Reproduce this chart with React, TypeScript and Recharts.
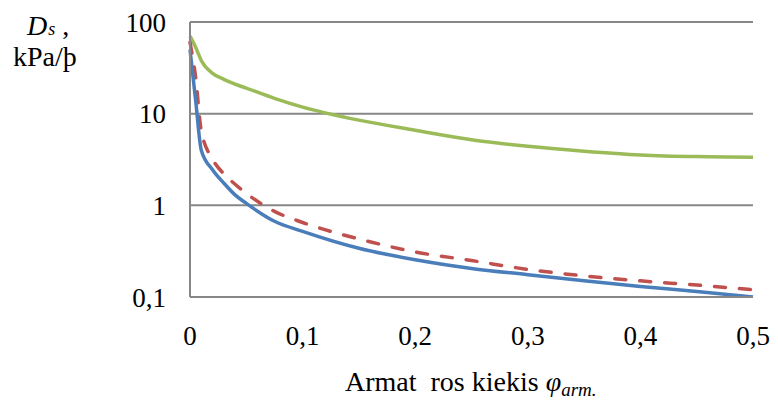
import { LineChart, Line, XAxis, YAxis, CartesianGrid } from 'recharts'

const xValues = [0, 0.005, 0.01, 0.02, 0.03, 0.04, 0.05, 0.075, 0.1, 0.15, 0.2, 0.25, 0.3, 0.35, 0.4, 0.45, 0.5]
const greenValues = [70, 53, 38, 27.5, 23.7, 21, 19, 14.7, 11.8, 8.5, 6.6, 5.2, 4.4, 3.9, 3.55, 3.4, 3.35]
const blueValues = [50, 14, 4.0, 2.45, 1.75, 1.3, 1.05, 0.67, 0.52, 0.34, 0.255, 0.205, 0.175, 0.15, 0.13, 0.115, 0.1]
const redValues = [60, 25, 6.5, 3.2, 2.2, 1.7, 1.35, 0.86, 0.65, 0.43, 0.31, 0.25, 0.2, 0.17, 0.15, 0.135, 0.12]

const xTicks = [0, 0.1, 0.2, 0.3, 0.4, 0.5]
const yTicks = [0.1, 1, 10, 100]

const data = xValues.map((x, i) => ({
  x,
  green: greenValues[i],
  blue: blueValues[i],
  red: redValues[i],
}))

const font = '"Liberation Serif", "Times New Roman", serif'
const gray = '#878787'
const comma = (v: number) => String(v).replace('.', ',')

export default function App() {
  return (
    <div style={{ position: 'absolute', left: 0, top: 0, width: 778, height: 414, background: '#fff', fontFamily: font }}>
      <LineChart width={778} height={414} data={data} margin={{ top: 22, right: 25, bottom: 57, left: 0 }}>
        <CartesianGrid vertical={false} stroke={gray} strokeWidth={2} />
        <XAxis
          dataKey="x" type="number" domain={[0, 0.5]} ticks={xTicks}
          tickFormatter={comma} height={60}
          tick={{ fill: '#000', fontSize: 27, fontFamily: font }}
          tickLine={false} tickSize={0} tickMargin={29}
          axisLine={{ stroke: gray, strokeWidth: 2 }}
        />
        <YAxis
          scale="log" type="number" domain={[0.1, 100]} ticks={yTicks} allowDataOverflow
          tickFormatter={comma} width={190}
          tick={{ fill: '#000', fontSize: 27, fontFamily: font }}
          tickLine={false} tickSize={0} tickMargin={24}
          axisLine={{ stroke: gray, strokeWidth: 2 }}
        />
        <Line type="monotone" dataKey="green" stroke="#9BBB59" strokeWidth={3.5} dot={false} isAnimationActive={false} />
        <Line type="monotone" dataKey="red" stroke="#C0504D" strokeWidth={3.5} strokeDasharray="11 14" strokeLinecap="round" dot={false} isAnimationActive={false} />
        <Line type="monotone" dataKey="blue" stroke="#4A7EBB" strokeWidth={3.5} dot={false} isAnimationActive={false} />
      </LineChart>
      {/* y axis title */}
      <div style={{ position: 'absolute', left: 27, top: 14, fontSize: 28, lineHeight: '24px', whiteSpace: 'nowrap' }}>
        <i>D</i>
        <i style={{ fontSize: 18, marginLeft: 1 }}>s</i> ,
      </div>
      <div style={{ position: 'absolute', left: 13, top: 45, fontSize: 28, lineHeight: '24px', whiteSpace: 'nowrap' }}>
        kPa/þ
      </div>
      {/* x axis title */}
      <div style={{ position: 'absolute', left: 345, top: 366, fontSize: 28, lineHeight: '32px', whiteSpace: 'nowrap' }}>
        Armat&nbsp; ros kiekis <i>φ</i>
        <i style={{ fontSize: 19, position: 'relative', top: 5 }}>arm.</i>
      </div>
    </div>
  )
}
